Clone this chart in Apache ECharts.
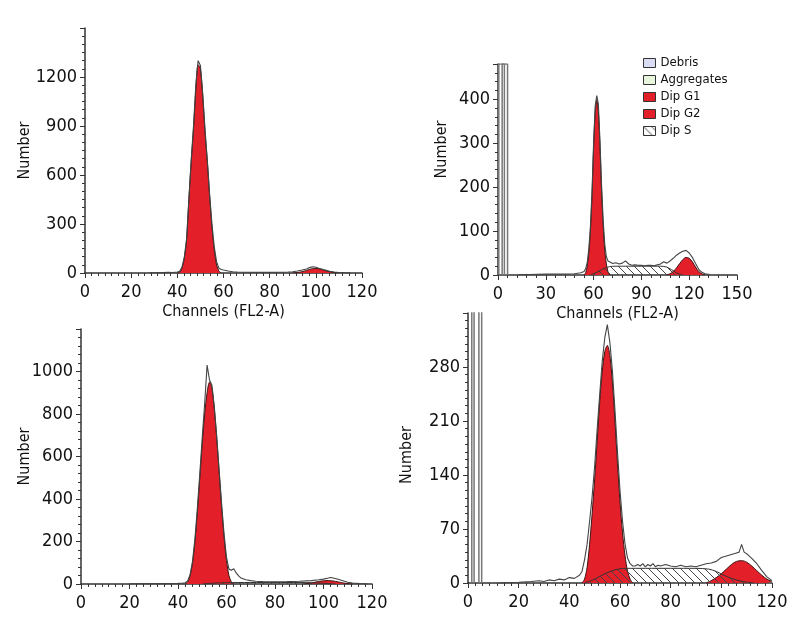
<!DOCTYPE html>
<html><head><meta charset="utf-8">
<script src="https://cdn.jsdelivr.net/npm/echarts@6.0.0/dist/echarts.min.js"></script>
<style>html,body{margin:0;padding:0;background:#fff}#c{width:800px;height:640px}</style>
</head><body><div id="c"></div><script>
// ---------- Panel A (top-left) ----------
const aHistCh = [28,30,32,34,36,38,40,41,42,43,44,45,46,47,48,49,50,51,52,53,54,55,56,57,58,59,60,61,62,64,66,70,75,80,85,88,90,92,94,96,97,98,99,100,101,102,104,106,108,110,112,115];
const aHist   = [2,1,3,2,4,3,6,10,35,95,210,455,690,900,1150,1300,1270,1100,880,690,480,300,160,70,30,22,18,15,12,8,6,5,4,4,5,6,8,12,18,25,32,36,38,35,30,26,18,10,6,3,2,1];
const aG1Ch = [40,41,42,43,44,45,46,47,48,49,50,51,52,53,54,55,56,57,58,59];
const aG1   = [0,5,30,90,200,450,680,880,1120,1275,1250,1080,860,680,470,280,140,50,12,0];
const aG2Ch = [90,92,94,96,98,100,102,104,106,108,110];
const aG2   = [0,3,8,16,25,28,24,15,8,3,0];

// ---------- Panel B (top-right) ----------
const bHistCh = [13,20,30,40,48,52,54,55,56,57,58,59,60,61,62,63,64,65,66,67,68,69,70,72,74,76,78,80,82,84,86,88,90,92,94,96,98,100,102,104,106,108,110,112,114,116,118,120,122,124,126,128,130,133];
const bHist   = [1,1,2,2,3,5,8,14,28,60,110,190,300,385,408,388,305,205,125,70,42,32,30,26,28,25,27,32,25,22,23,22,22,21,22,22,21,23,25,30,27,32,38,45,50,54,56,50,40,26,13,6,3,1];
const bG1Ch = [54,55,56,57,58,59,60,61,62,63,64,65,66,67,68,69,70];
const bG1   = [0,5,20,50,100,180,290,370,398,372,292,192,112,56,25,8,0];
const bSCh = [58,62,66,70,74,78,82,86,90,94,98,102,106,108,110,112,114,116];
const bS   = [0,6,14,19,20,20,20,20,20,20,20,20,18,14,10,5,2,0];
const bG2Ch = [106,108,110,112,114,116,118,120,122,124,126,128,130];
const bG2   = [0,3,8,16,26,35,40,38,30,18,8,3,0];
const bDebOuterCh = [0.5,0.5,6,6];
const bDebInnerCh = [2.6,2.6,4,4];
const bDebVal = [0,480,480,0];

// ---------- Panel C (bottom-left) ----------
const cHistCh = [20,30,40,42,43,44,45,46,47,48,49,50,51,52,53,54,55,56,57,58,59,60,61,62,63,64,65,66,68,70,72,75,80,85,90,95,98,100,102,103,104,106,108,110,112,115,118];
const cHist   = [1,2,3,4,6,14,45,108,215,360,520,690,850,1030,960,935,830,690,530,375,235,125,70,65,72,52,38,28,20,16,13,11,10,11,13,16,20,23,28,31,28,22,15,8,4,2,1];
const cG1Ch = [43,44,45,46,47,48,49,50,51,52,53,54,55,56,57,58,59,60,61,62,63];
const cG1   = [0,10,40,100,200,340,500,660,800,900,950,920,820,680,520,360,220,110,40,10,0];
const cSCh = [50,55,60,65,70,80,90,95,100,105];
const cS   = [0,4,6,7,7,7,7,6,3,0];
const cG2Ch = [92,95,98,100,102,104,106,108,110,112];
const cG2   = [0,5,12,15,16,14,10,5,2,0];

// ---------- Panel D (bottom-right) ----------
const dHistCh = [12,20,25,28,30,32,34,36,38,40,42,44,45,46,47,48,49,50,51,52,53,54,55,56,57,58,59,60,61,62,63,64,65,66,67,68,69,70,71,72,73,74,75,76,78,80,82,84,86,88,90,92,94,96,98,100,102,104,106,107,108,109,110,112,114,116,118,120];
const dHist   = [0,1,2,3,2,4,3,5,4,7,6,10,15,30,50,80,112,152,200,245,288,318,335,312,275,225,170,120,80,50,32,25,22,22,24,22,25,21,24,22,25,21,23,22,24,22,21,23,21,22,21,23,25,26,28,33,35,37,39,40,50,40,38,32,25,16,8,3];
const dG1Ch = [45,46,47,48,49,50,51,52,53,54,55,56,57,58,59,60,61,62,63,64,65];
const dG1   = [0,5,20,50,90,135,185,235,275,300,308,295,260,210,155,105,65,35,15,5,0];
const dSCh = [46,50,54,58,62,66,70,75,80,85,90,95,98,101,104,107,110,113];
const dS   = [0,5,12,17,19,19,19,19,19,19,19,18,15,10,6,3,1,0];
const dG2Ch = [94,96,98,100,102,104,106,108,110,112,114,116,118,120];
const dG2   = [0,3,7,12,18,24,28,29,27,22,16,10,5,2];
const dDebOuterCh = [1.5,1.5,5.4,5.4];
const dDebInnerCh = [2.4,2.4,4.3,4.3];
const dDebVal = [0,360,360,0];

// ---------- axis ticks / labels ----------
const xMaxes = [120,150,120,120];
const xIntervals = [20,30,20,20];
const yMaxes = [1500,480,1200,350];
const yIntervals = [300,100,200,70];
const legendNames = ['Debris','Aggregates','Dip G1','Dip G2','Dip S'];
const xName = 'Channels (FL2-A)';
const yName = 'Number';

const F = "'DejaVu Sans Condensed','Liberation Sans',sans-serif";
const RED = '#e3202a';
const EDGE = '#3a1414';

function zip(xs, ys){ return xs.map((x,i)=>[x, ys[i]]); }
function hatch(){
  const c=document.createElement('canvas'); c.width=8; c.height=8;
  const g=c.getContext('2d'); g.strokeStyle='#444'; g.lineWidth=1;
  g.beginPath(); g.moveTo(-1,-1); g.lineTo(9,9); g.moveTo(-5,3); g.lineTo(5,13); g.moveTo(3,-5); g.lineTo(13,5); g.stroke();
  return c;
}
const HATCH = {image: hatch(), repeat: 'repeat'};

const grids = [
  {left:85, top:28, width:277, height:245},
  {left:498, top:64, width:239, height:211},
  {left:81, top:329, width:291, height:255},
  {left:468, top:313, width:304, height:270}
];
const xSplits = [7,5,7,7];
const ySplits = [6,5,5,7];
const showXName = [true,true,false,false];
const yNamePad = [[0,0,0,0],[0,0,0,40],[0,0,0,0],[0,14,0,0]];
const yNameGap = [52,48,48,53];

const axisCommon = {
  axisLine:{lineStyle:{color:'#333',width:1.5}},
  axisTick:{length:5, lineStyle:{color:'#333',width:1}},
  splitLine:{show:false},
};
const xAxes = grids.map((g,i)=>Object.assign({}, axisCommon, {
  type:'value', gridIndex:i, min:0, max:xMaxes[i], interval:xIntervals[i],
  minorTick:{show:true, splitNumber:xSplits[i], length:3, lineStyle:{color:'#333'}},
  axisLabel:{fontSize:18, color:'#111', margin:10, fontFamily:F, formatter:v=>String(v)},
  name: showXName[i] ? xName : '', nameLocation:'middle', nameGap:31, nameMoveOverlap:false,
  nameTextStyle:{fontSize:16, color:'#111', fontFamily:F}
}));
const yAxes = grids.map((g,i)=>Object.assign({}, axisCommon, {
  type:'value', gridIndex:i, min:0, max:yMaxes[i], interval:yIntervals[i],
  minorTick:{show:true, splitNumber:ySplits[i], length:3, lineStyle:{color:'#333'}},
  axisLabel:{fontSize:18, color:'#111', margin:8, fontFamily:F, showMaxLabel:false, formatter:v=>String(v)},
  name: yName, nameLocation:'middle', nameGap:yNameGap[i], nameMoveOverlap:false,
  nameTextStyle:{fontSize:16, color:'#111', fontFamily:F, padding:yNamePad[i]}
}));

function redSeries(name, i, xs, ys){
  return {name, type:'line', xAxisIndex:i, yAxisIndex:i, data:zip(xs,ys), showSymbol:false, smooth:0.3,
    lineStyle:{color:EDGE, width:1}, itemStyle:{color:RED}, areaStyle:{color:RED, opacity:1}, z:2, silent:true};
}
function sSeries(i, xs, ys){
  return {name:'Dip S', type:'line', xAxisIndex:i, yAxisIndex:i, data:zip(xs,ys), showSymbol:false, smooth:0.3,
    lineStyle:{color:'#333', width:1}, itemStyle:{color:'#888'}, areaStyle:{color:HATCH, opacity:1}, z:3, silent:true};
}
function histSeries(i, xs, ys){
  return {name:'hist', type:'line', xAxisIndex:i, yAxisIndex:i, data:zip(xs,ys), showSymbol:false,
    lineStyle:{color:'#444', width:1.1}, z:4, silent:true};
}
function debrisSeries(i, xs, ys){
  return {name:'Debris', type:'line', xAxisIndex:i, yAxisIndex:i, data:zip(xs,ys), showSymbol:false,
    lineStyle:{color:'#777', width:1.5}, itemStyle:{color:'#d8dcf0'}, z:4, silent:true};
}

const series = [
  redSeries('Dip G1',0,aG1Ch,aG1), redSeries('Dip G2',0,aG2Ch,aG2), histSeries(0,aHistCh,aHist),
  redSeries('Dip G1',1,bG1Ch,bG1), redSeries('Dip G2',1,bG2Ch,bG2), sSeries(1,bSCh,bS), histSeries(1,bHistCh,bHist),
  debrisSeries(1,bDebOuterCh,bDebVal), debrisSeries(1,bDebInnerCh,bDebVal),
  redSeries('Dip G1',2,cG1Ch,cG1), redSeries('Dip G2',2,cG2Ch,cG2), sSeries(2,cSCh,cS), histSeries(2,cHistCh,cHist),
  redSeries('Dip G1',3,dG1Ch,dG1), redSeries('Dip G2',3,dG2Ch,dG2), sSeries(3,dSCh,dS), histSeries(3,dHistCh,dHist),
  debrisSeries(3,dDebOuterCh,dDebVal), debrisSeries(3,dDebInnerCh,dDebVal),
  {name:'Aggregates', type:'line', xAxisIndex:1, yAxisIndex:1, data:[], itemStyle:{color:'#e4f4dc'}}
];

const legendStyles = [
  {color:'#d9dcf2', borderColor:'#333', borderWidth:1},
  {color:'#e6f5dc', borderColor:'#333', borderWidth:1},
  {color:RED, borderColor:'#333', borderWidth:1},
  {color:RED, borderColor:'#333', borderWidth:1},
  {color:HATCH, borderColor:'#333', borderWidth:1}
];

const chart = echarts.init(document.getElementById('c'), null, {renderer:'canvas'});
chart.setOption({
  animation:false,
  backgroundColor:'#fff',
  grid: grids,
  xAxis: xAxes,
  yAxis: yAxes,
  legend: {
    orient:'vertical', left:638, top:50, itemWidth:12, itemHeight:9, itemGap:1, icon:'rect',
    selectedMode:false,
    textStyle:{fontSize:13, color:'#111', fontFamily:F, lineHeight:16},
    data: legendNames.map((n,i)=>({name:n, icon:'rect', itemStyle:legendStyles[i]}))
  },
  series
});
</script></body></html>
